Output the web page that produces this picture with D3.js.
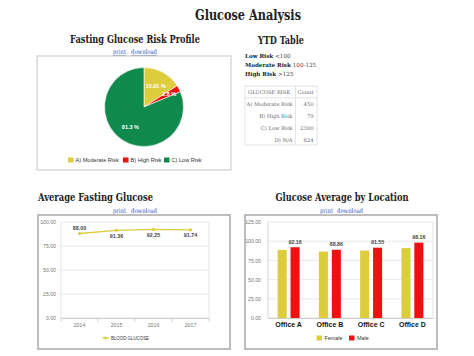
<!DOCTYPE html>
<html><head><meta charset="utf-8">
<script src="https://cdn.jsdelivr.net/npm/d3@7"></script>
<style>body{margin:0;background:#fff}svg{display:block}</style>
</head><body>
<svg id="c" width="474" height="356"></svg>
<script>
// ---- data ----
const riskCategories = ["A) Moderate Risk", "B) High Risk", "C) Low Risk"];
const riskCounts = [450, 79, 2300];
const riskLabels = ["15.91 %", "2.8 %", "81.3 %"];
const riskDefs = [["Low Risk", "<100"], ["Moderate Risk", "100-125"], ["High Risk", ">125"]];
const tableRows = ["A) Moderate Risk", "B) High Risk", "C) Low Risk", "D) N/A"];
const tableCounts = [450, 79, 2300, 824];
const years = ["2014", "2015", "2016", "2017"];
const glucoseAvg = [88.00, 91.36, 92.25, 91.74];
const lineTicks = [0, 25, 50, 75, 100];
const offices = ["Office A", "Office B", "Office C", "Office D"];
const femaleAvg = [88.7, 86.5, 87.8, 91.0];
const maleAvg = [92.16, 88.86, 91.55, 98.16];
const barTicks = [0, 25, 50, 75, 100, 125];

const svg = d3.select("#c");
const SERIF = "'DejaVu Serif', serif";
const SANS = "'Liberation Sans', Arial, sans-serif";
const YEL = "#ddcc3c", RED = "#ee1111", GRN = "#0f8a4c";

function title(txt, x, y, size, len, anchor) {
  svg.append("text").attr("x", x).attr("y", y).attr("text-anchor", anchor || "middle")
    .attr("font-family", SERIF).attr("font-weight", "bold").attr("font-size", size)
    .attr("fill", "#222").attr("textLength", len).attr("lengthAdjust", "spacingAndGlyphs").text(txt);
}
function links(x1, x2, y) {
  [["print", x1, 13], ["download", x2, 26]].forEach(([t, x, l]) => {
    svg.append("text").attr("x", x).attr("y", y).attr("font-family", SERIF).attr("font-size", 6.5)
      .attr("fill", "#2a4fc0").attr("text-decoration", "underline")
      .attr("textLength", l).attr("lengthAdjust", "spacingAndGlyphs").text(t);
  });
}
function box(x, y, w, h, heavy) {
  if (heavy) svg.append("rect").attr("x", x + 1).attr("y", y + 1).attr("width", w).attr("height", h)
    .attr("fill", "#ddd");
  svg.append("rect").attr("x", x).attr("y", y).attr("width", w).attr("height", h)
    .attr("fill", "#fff").attr("stroke", heavy ? "#bdbdbd" : "#cfcfcf").attr("stroke-width", heavy ? 2 : 1.2);
}

title("Glucose Analysis", 248, 20, 15, 106);

// ---- Pie ----
title("Fasting Glucose Risk Profile", 135, 43, 11.5, 130);
links(113, 131, 54);
box(37, 56, 194, 114, false);
const cx = 144, cy = 107, r = 39.5;
const pie = d3.pie().sort(null)(riskCounts);
const arc = d3.arc().innerRadius(0).outerRadius(r);
const labArc = d3.arc().innerRadius(r * 0.62).outerRadius(r * 0.62);
const pieCol = d3.scaleOrdinal().domain(riskCategories).range([YEL, RED, GRN]);
const pg = svg.append("g").attr("transform", `translate(${cx},${cy})`);
pg.selectAll("path").data(pie).join("path").attr("d", arc)
  .attr("fill", (d, i) => pieCol(riskCategories[i])).attr("stroke", "#fff").attr("stroke-width", 0.6);
pg.selectAll("text").data(pie).join("text")
  .attr("transform", (d, i) => {
    const c = (i === 1 ? d3.arc().innerRadius(r * 0.72).outerRadius(r * 0.72) : labArc).centroid(d);
    return `translate(${c[0]},${c[1] + 2})`;
  })
  .attr("text-anchor", "middle").attr("font-family", SANS).attr("font-weight", "bold")
  .attr("font-size", 5.5).attr("fill", "#fff").text((d, i) => riskLabels[i]);
const legX = [68, 123, 164];
riskCategories.forEach((c, i) => {
  svg.append("rect").attr("x", legX[i]).attr("y", 157.5).attr("width", 5.5).attr("height", 5).attr("fill", pieCol(c));
  svg.append("text").attr("x", legX[i] + 7.5).attr("y", 162.3).attr("font-family", SANS)
    .attr("font-size", 5.6).attr("fill", "#333").text(c);
});

// ---- YTD Table ----
title("YTD Table", 281, 44, 11.5, 46);
riskDefs.forEach((d, i) => {
  const t = svg.append("text").attr("x", 245).attr("y", 57.5 + i * 9.2).attr("font-family", SERIF)
    .attr("font-size", 5.6).attr("fill", "#222");
  t.append("tspan").attr("font-weight", "bold").text(d[0] + " ");
  t.append("tspan").attr("fill", "#444").text(d[1]);
});
const tx0 = 245, tx1 = 295.5, tx2 = 317, ty0 = 86, rowH = 11.8;
svg.append("rect").attr("x", tx0).attr("y", ty0).attr("width", tx2 - tx0).attr("height", rowH * 5)
  .attr("fill", "#fff").attr("stroke", "#ddd").attr("stroke-width", 0.8);
svg.append("line").attr("x1", tx1).attr("x2", tx1).attr("y1", ty0).attr("y2", ty0 + rowH * 5)
  .attr("stroke", "#ddd").attr("stroke-width", 0.8);
svg.append("line").attr("x1", tx0).attr("x2", tx2).attr("y1", ty0 + rowH).attr("y2", ty0 + rowH)
  .attr("stroke", "#ddd").attr("stroke-width", 0.8);
svg.append("text").attr("x", 248).attr("y", ty0 + 8).attr("font-family", SERIF).attr("font-size", 5.2)
  .attr("fill", "#666").text("GLUCOSE RISK");
svg.append("text").attr("x", 313.5).attr("y", ty0 + 8).attr("text-anchor", "end").attr("font-family", SERIF)
  .attr("font-size", 5.2).attr("fill", "#666").text("Count");
tableRows.forEach((rw, i) => {
  const y = ty0 + rowH * (i + 1) + 8.3;
  svg.append("text").attr("x", 292.5).attr("y", y).attr("text-anchor", "end").attr("font-family", SERIF)
    .attr("font-size", 5.2).attr("fill", "#666").text(rw);
  svg.append("text").attr("x", 313.5).attr("y", y).attr("text-anchor", "end").attr("font-family", SERIF)
    .attr("font-size", 5.2).attr("fill", "#666").text(tableCounts[i]);
});

// ---- Line chart ----
title("Average Fasting Glucose", 38, 201, 11.5, 115, "start");
links(113, 131, 213);
box(38, 215, 192, 134, true);
const lx = d3.scaleBand().domain(years).range([61, 209]);
const ly = d3.scaleLinear().domain([0, 100]).range([318, 222]);
const lg = svg.append("g");
lg.selectAll("line.g").data(lineTicks).join("line").attr("class", "g")
  .attr("x1", 61).attr("x2", 209).attr("y1", d => ly(d)).attr("y2", d => ly(d))
  .attr("stroke", "#e3e3e3").attr("stroke-width", 0.8);
lg.append("line").attr("x1", 61).attr("x2", 61).attr("y1", 222).attr("y2", 318).attr("stroke", "#ddd").attr("stroke-width", 0.8);
lg.append("line").attr("x1", 209).attr("x2", 209).attr("y1", 222).attr("y2", 318).attr("stroke", "#ddd").attr("stroke-width", 0.8);
const lyAxis = svg.append("g").attr("transform", "translate(57,0)")
  .call(d3.axisLeft(ly).tickValues(lineTicks).tickFormat(d3.format(".2f")).tickSize(0));
lyAxis.select(".domain").remove();
lyAxis.selectAll("text").attr("font-family", SANS).attr("font-size", 5.2).attr("fill", "#777").attr("dx", 2);
const lxAxis = svg.append("g").attr("transform", "translate(0,318)")
  .call(d3.axisBottom(lx).tickSize(0));
lxAxis.select(".domain").attr("stroke", "#ccc");
lxAxis.selectAll("text").attr("font-family", SANS).attr("font-size", 5.2).attr("fill", "#777").attr("dy", 6);
years.concat([null]).forEach((y, i) => {
  const x = y ? lx(y) : 209;
  svg.append("line").attr("x1", x).attr("x2", x).attr("y1", 318).attr("y2", 322).attr("stroke", "#ccc").attr("stroke-width", 0.8);
});
const line = d3.line().x((d, i) => lx(years[i]) + lx.bandwidth() / 2).y(d => ly(d));
svg.append("path").datum(glucoseAvg).attr("d", line).attr("fill", "none").attr("stroke", YEL).attr("stroke-width", 1.3);
svg.selectAll("circle.pt").data(glucoseAvg).join("circle").attr("class", "pt")
  .attr("cx", (d, i) => lx(years[i]) + lx.bandwidth() / 2).attr("cy", d => ly(d)).attr("r", 1.6).attr("fill", YEL);
svg.selectAll("text.vl").data(glucoseAvg).join("text").attr("class", "vl")
  .attr("x", (d, i) => lx(years[i]) + lx.bandwidth() / 2)
  .attr("y", (d, i) => ly(d) + (i === 0 ? -3.5 : 7.5))
  .attr("text-anchor", "middle").attr("font-family", SANS).attr("font-weight", "bold")
  .attr("font-size", 5.3).attr("fill", "#444").text(d => d.toFixed(2));
svg.append("line").attr("x1", 102).attr("x2", 109).attr("y1", 338).attr("y2", 338).attr("stroke", YEL).attr("stroke-width", 1.2);
svg.append("circle").attr("cx", 105.5).attr("cy", 338).attr("r", 1.4).attr("fill", YEL);
svg.append("text").attr("x", 111).attr("y", 340).attr("font-family", SANS).attr("font-size", 5.4)
  .attr("fill", "#333").attr("textLength", 38).attr("lengthAdjust", "spacingAndGlyphs").text("BLOOD GLUCOSE");

// ---- Bar chart ----
title("Glucose Average by Location", 342, 201, 11.5, 133);
links(320, 337, 213);
box(245, 215, 192, 134, true);
const bx0 = d3.scaleBand().domain(offices).range([268, 433]).paddingInner(0.467).paddingOuter(0.233);
const bx1 = d3.scaleBand().domain(["Female", "Male"]).range([0, bx0.bandwidth()]).paddingInner(0.3);
const by = d3.scaleLinear().domain([0, 125]).range([318, 222]);
svg.selectAll("line.bg").data(barTicks).join("line").attr("class", "bg")
  .attr("x1", 268).attr("x2", 433).attr("y1", d => by(d)).attr("y2", d => by(d))
  .attr("stroke", "#e3e3e3").attr("stroke-width", 0.8);
svg.append("line").attr("x1", 268).attr("x2", 268).attr("y1", 222).attr("y2", 318).attr("stroke", "#ccc").attr("stroke-width", 0.8);
svg.append("line").attr("x1", 433).attr("x2", 433).attr("y1", 222).attr("y2", 318).attr("stroke", "#ddd").attr("stroke-width", 0.8);
const byAxis = svg.append("g").attr("transform", "translate(263,0)")
  .call(d3.axisLeft(by).tickValues(barTicks).tickFormat(d3.format(".2f")).tickSize(0));
byAxis.select(".domain").remove();
byAxis.selectAll("text").attr("font-family", SANS).attr("font-size", 5.2).attr("fill", "#777").attr("dx", 1);
const bxAxis = svg.append("g").attr("transform", "translate(0,318)").call(d3.axisBottom(bx0).tickSize(0));
bxAxis.select(".domain").attr("stroke", "#ccc");
bxAxis.selectAll("text").attr("font-family", SANS).attr("font-weight", "bold").attr("font-size", 7)
  .attr("fill", "#111").attr("dy", 6);
const groups = svg.selectAll("g.grp").data(offices).join("g").attr("class", "grp")
  .attr("transform", d => `translate(${bx0(d)},0)`);
groups.append("rect").attr("x", bx1("Female")).attr("width", bx1.bandwidth())
  .attr("y", (d, i) => by(femaleAvg[i])).attr("height", (d, i) => 318 - by(femaleAvg[i])).attr("fill", YEL);
groups.append("rect").attr("x", bx1("Male")).attr("width", bx1.bandwidth())
  .attr("y", (d, i) => by(maleAvg[i])).attr("height", (d, i) => 318 - by(maleAvg[i])).attr("fill", RED);
groups.append("text").attr("x", bx1("Male") + bx1.bandwidth() / 2).attr("y", (d, i) => by(maleAvg[i]) - 3.5)
  .attr("text-anchor", "middle").attr("font-family", SANS).attr("font-weight", "bold").attr("font-size", 5.3)
  .attr("fill", "#444").text((d, i) => maleAvg[i].toFixed(2));
[["Female", YEL, 316.5], ["Male", RED, 349]].forEach(([t, c, x]) => {
  svg.append("rect").attr("x", x).attr("y", 335.5).attr("width", 5.5).attr("height", 5).attr("fill", c);
  svg.append("text").attr("x", x + 8).attr("y", 340.2).attr("font-family", SANS).attr("font-size", 5.4)
    .attr("fill", "#333").text(t);
});
</script>
</body></html>
